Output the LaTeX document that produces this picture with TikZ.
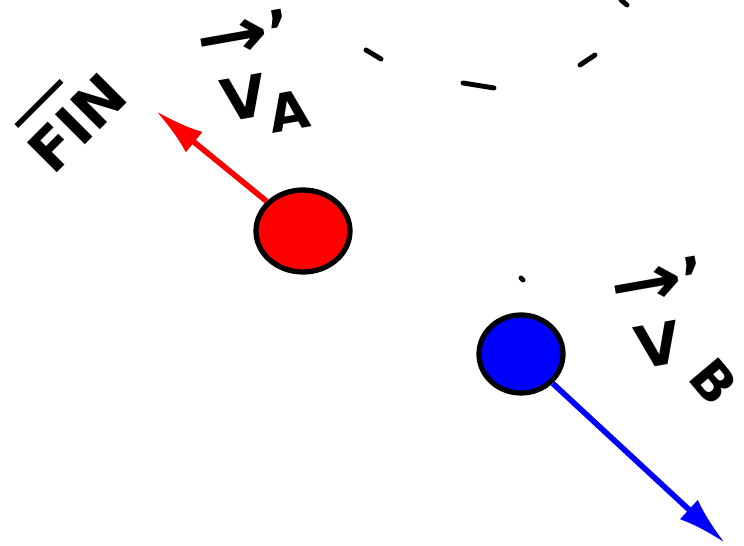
\documentclass[tikz,border=0pt]{standalone}
\usepackage{fontspec}
\setsansfont{DejaVu Sans}
\usepackage{tikz}
\usetikzlibrary{shapes, arrows.meta, positioning}

\newcommand{\velarrow}{\rlap{\hspace{-0.25em}\scalebox{1.5}[1.2]{→}'}}

\begin{document}
\begin{tikzpicture}[x=0.02cm, y=-0.02cm,
    ball/.style={ellipse, draw=black, line width=3pt, inner sep=0pt},
    vel/.style={line width=3.2pt, -{Latex[length=28pt, width=15pt]}},
    lbl/.style={font=\sffamily\bfseries, inner sep=0pt, scale=3.3, transform shape},
    trail/.style={line width=2.8pt, line cap=round}]
    \useasboundingbox (0,0) rectangle (744,546);

    % --- Balls ---
    \node[ball, fill=red, minimum width=1.88cm, minimum height=1.64cm] (ballA) at (303,231) {};
    \node[ball, fill=blue, minimum width=1.68cm, minimum height=1.56cm] (ballB) at (521,354) {};

    % --- Velocities after the hit ---
    \coordinate (tipA) at (156,111);
    \coordinate (tipB) at (725,543);
    \draw[vel, red] (ballA) -- (tipA);
    \draw[vel, blue] (ballB) -- (tipB);

    % --- Labels ---
    \node[lbl, rotate=45] (fin) at (66,112)
        {\shortstack[l]{\hspace{0.17em}\rule[-0.25em]{1.1em}{0.09em}\\FIN}};
    \node[lbl, rotate=10] (velA) at (260,74)
        {\shortstack[l]{\velarrow\\V}\raisebox{-0.6ex}{\small A}};
    \node[lbl, rotate=10] (velB) at (683,336)
        {\shortstack[l]{\velarrow\\V}\raisebox{-1.4ex}{\small\rotatebox[origin=c]{-60}{B}}};

    % --- Trail marks ---
    \foreach \xa/\ya/\xb/\yb in {366/50/381/59, 463/83/494/88, 580/65/595/55, 621/0/627/5, 521/278/523/280}
        \draw[trail] (\xa,\ya) -- (\xb,\yb);

\end{tikzpicture}
\end{document}
